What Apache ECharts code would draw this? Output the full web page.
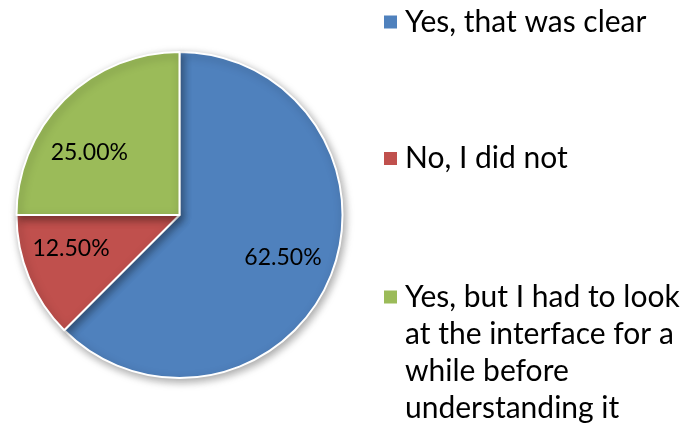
<!DOCTYPE html>
<html>
<head>
<meta charset="utf-8">
<script src="https://cdn.jsdelivr.net/npm/echarts@6/dist/echarts.min.js"></script>
<style>
  html, body { margin: 0; padding: 0; background: #fff; }
  #chart { width: 683px; height: 432px; }
</style>
</head>
<body>
<div id="chart"></div>
<script>
var answers = ["Yes, that was clear", "No, I did not", "Yes, but I had to look at the interface for a while before understanding it"];
var legendText = ["Yes, that was clear", "No, I did not", "Yes, but I had to look\nat the interface for a\nwhile before\nunderstanding it"];
var shares = [62.5, 12.5, 25.0];
var colors = ["#4F81BD", "#C0504D", "#9BBB59"];

var font = "Lato";
var chart = echarts.init(document.getElementById("chart"));

var pieData = answers.map(function (name, i) {
  return { name: name, value: shares[i] };
});

// legend text is centred on its square, so pad wrapped entries with blank
// lines on top to keep the first line level with the square
function padLines(txt) {
  var n = txt.split("\n").length;
  var pre = "";
  for (var k = 1; k < n; k++) pre += " \n";
  return pre + txt;
}

var lineH = 37;
var iconMid = [22, 158.5, 297];
var legends = answers.map(function (name, i) {
  var n = legendText[i].split("\n").length;
  var blockH = (2 * n - 1) * lineH;
  return {
    data: [name],
    orient: "vertical",
    left: 382,
    top: iconMid[i] - blockH / 2,
    padding: 0,
    itemWidth: 15,
    itemHeight: 15,
    icon: "rect",
    formatter: function () { return padLines(legendText[i]); },
    textStyle: {
      fontFamily: font,
      fontSize: 30,
      color: "#000",
      lineHeight: lineH,
      padding: [0, 0, 0, 2]
    }
  };
});

// Excel nudges the small slices' labels off the mid angle
var labelNudge = [[0, 0], [-5, -9], [-11, 17]];

var option = {
  animation: false,
  color: colors,
  legend: legends,
  series: [
    {
      name: "base",
      type: "pie",
      center: [179.5, 215],
      radius: [0, 163],
      startAngle: 90,
      clockwise: true,
      silent: true,
      label: { show: false },
      labelLine: { show: false },
      itemStyle: {
        borderColor: "#fff",
        borderWidth: 2,
        shadowColor: "rgba(0,0,0,0.35)",
        shadowBlur: 8,
        shadowOffsetX: 2,
        shadowOffsetY: 3
      },
      data: pieData
    },
    {
      name: "labels",
      type: "pie",
      center: [179.5, 215],
      radius: [55, 163],
      startAngle: 90,
      clockwise: true,
      silent: true,
      legendHoverLink: false,
      itemStyle: { color: "transparent" },
      label: {
        show: true,
        position: "inside",
        fontFamily: font,
        fontSize: 23,
        color: "#000",
        formatter: function (p) { return p.value.toFixed(2) + "%"; }
      },
      labelLine: { show: false },
      labelLayout: function (p) {
        var d = labelNudge[p.dataIndex];
        return { dx: d[0], dy: d[1] };
      },
      data: pieData
    }
  ]
};
chart.setOption(option);
</script>
</body>
</html>
